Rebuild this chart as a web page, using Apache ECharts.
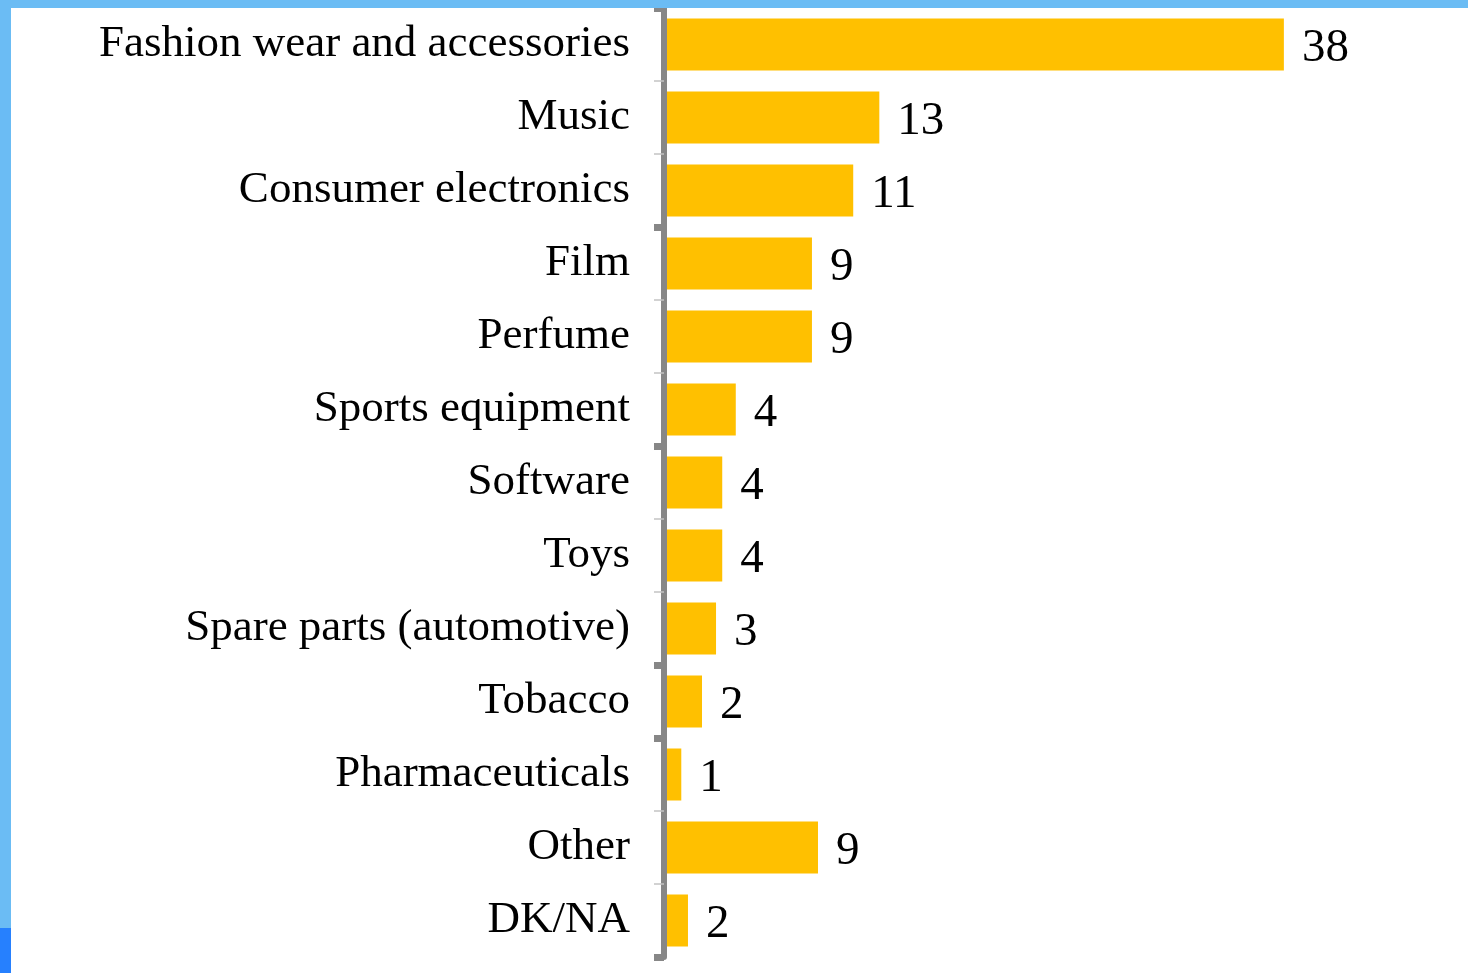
<!DOCTYPE html>
<html>
<head>
<meta charset="utf-8">
<script src="https://cdn.jsdelivr.net/npm/echarts@6/dist/echarts.min.js"></script>
<style>
  html, body { margin: 0; padding: 0; background: #fff; }
  #chart { width: 1468px; height: 973px; }
</style>
</head>
<body>
<div id="chart"></div>
<script>
  // categories, top to bottom
  const categories = [
    'Fashion wear and accessories',
    'Music',
    'Consumer electronics',
    'Film',
    'Perfume',
    'Sports equipment',
    'Software',
    'Toys',
    'Spare parts (automotive)',
    'Tobacco',
    'Pharmaceuticals',
    'Other',
    'DK/NA',
  ];
  // bar lengths
  const values = [38, 13.2, 11.6, 9.07, 9.07, 4.4, 3.57, 3.57, 3.19, 2.33, 1.06, 9.44, 1.47];
  // printed value labels
  const valueLabels = [38, 13, 11, 9, 9, 4, 4, 4, 3, 2, 1, 9, 2];
  // boundaries that get the heavy tick
  const heavyTicks = [0, 3, 6, 9, 10];

  const serif = '"Liberation Serif", "DejaVu Serif", serif';

  const chart = echarts.init(document.getElementById('chart'));

  const option = {
    backgroundColor: '#ffffff',
    animation: false,
    graphic: [
      { type: 'rect', left: 0, top: 0, shape: { width: 1468, height: 8 }, style: { fill: '#6bbcf4' }, z: 100 },
      { type: 'rect', left: 0, top: 0, shape: { width: 11, height: 973 }, style: { fill: '#6bbcf4' }, z: 100 },
      { type: 'rect', left: 0, top: 928, shape: { width: 11, height: 45 }, style: { fill: '#2680fe' }, z: 101 },
    ],
    grid: {
      left: 664,
      right: 21,
      top: 8,
      bottom: 16,
      outerBoundsMode: 'none',
    },
    xAxis: {
      type: 'value',
      min: 0,
      max: 48,
      show: false,
    },
    yAxis: [
      {
        type: 'category',
        data: categories,
        inverse: true,
        z: 3,
        axisLine: {
          show: true,
          lineStyle: { color: '#878787', width: 6 },
        },
        axisTick: {
          show: true,
          length: 10,
          lineStyle: { color: '#c4c4c4', width: 1.5 },
        },
        axisLabel: {
          margin: 34,
          color: '#000',
          fontFamily: serif,
          fontSize: 45,
        },
      },
      {
        type: 'category',
        data: categories,
        inverse: true,
        position: 'left',
        z: 4,
        axisLine: { show: false },
        axisLabel: { show: false },
        axisTick: {
          show: true,
          length: 10,
          interval: (index) => heavyTicks.includes(index),
          lineStyle: { color: '#878787', width: 7 },
        },
      },
    ],
    series: [
      {
        type: 'bar',
        yAxisIndex: 0,
        data: values,
        barWidth: 52,
        itemStyle: { color: '#ffc000' },
        label: {
          show: true,
          position: 'right',
          distance: 18,
          offset: [0, 4],
          color: '#000',
          fontFamily: serif,
          fontSize: 47,
          formatter: (p) => String(valueLabels[p.dataIndex]),
        },
      },
    ],
  };

  chart.setOption(option);
</script>
</body>
</html>
